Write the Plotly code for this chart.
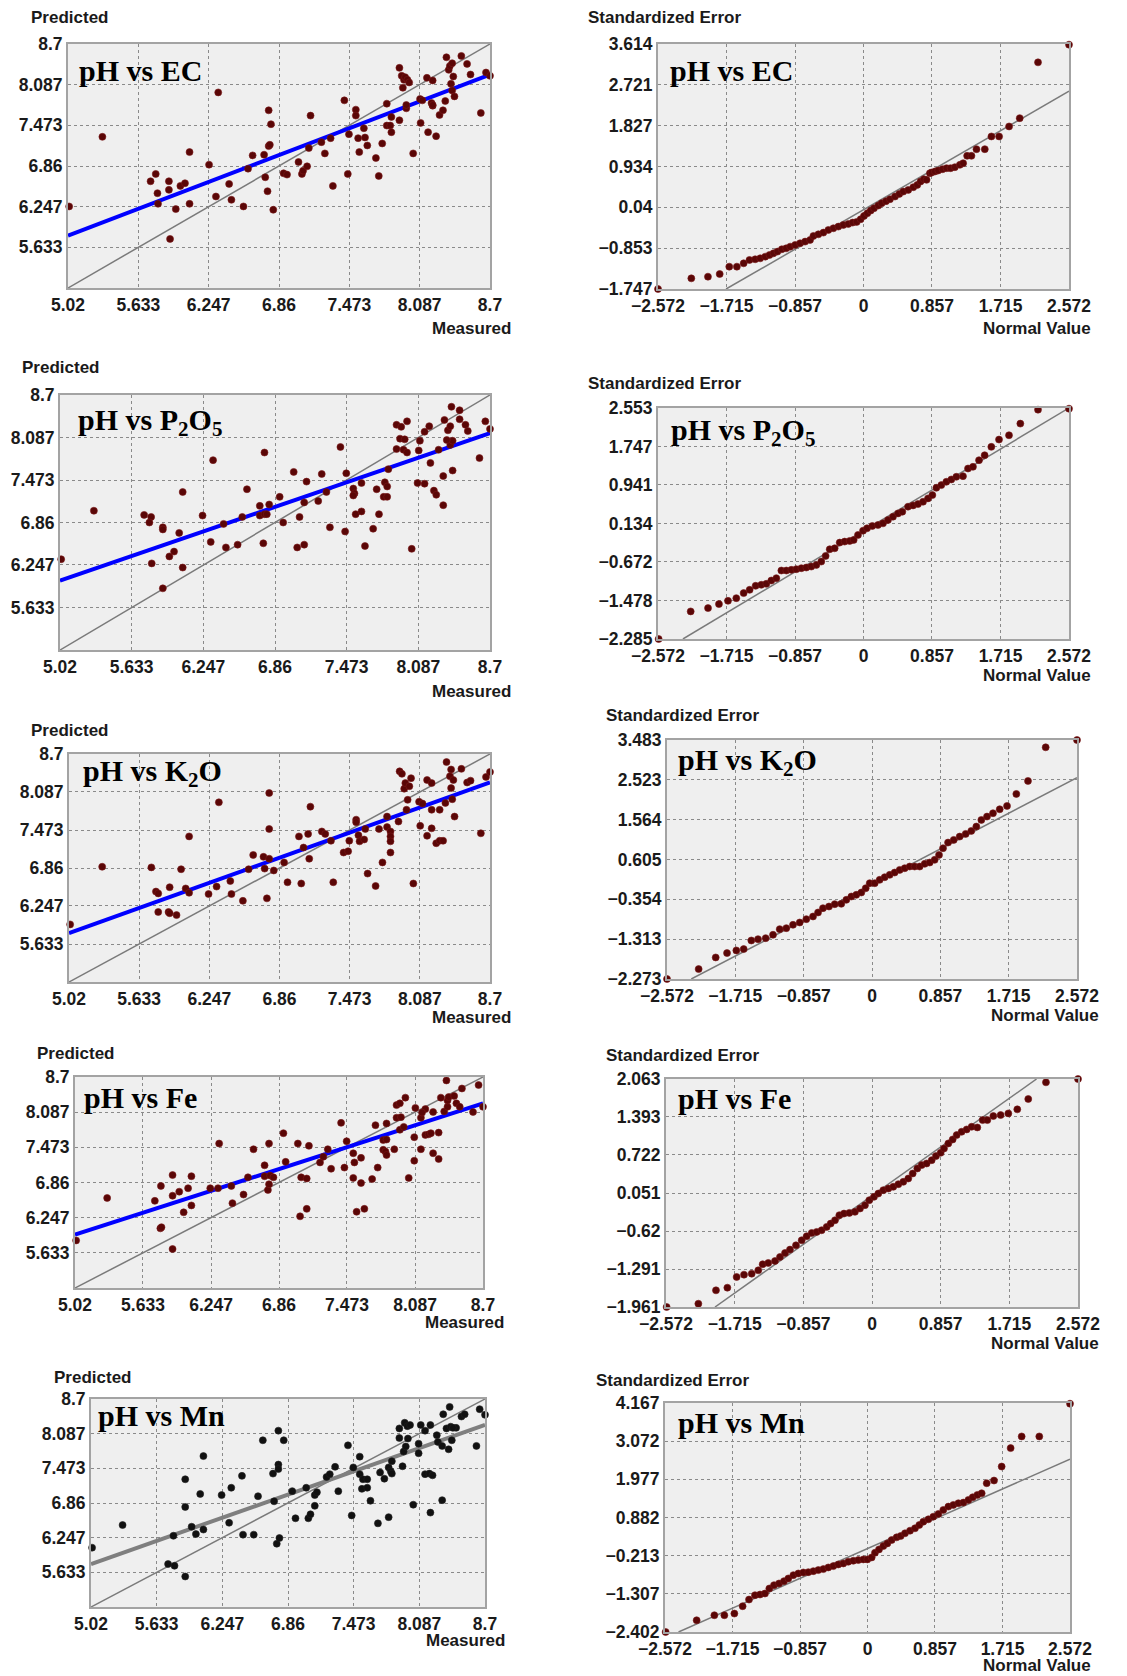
import plotly.graph_objects as go

W, H = 1127, 1676

# ---------------- DATA ----------------
meas_ticks = [5.02, 5.633, 6.247, 6.86, 7.473, 8.087, 8.7]
normal_ticks = [-2.572, -1.715, -0.857, 0, 0.857, 1.715, 2.572]

ec_y_ticks = [-1.747, -0.853, 0.04, 0.934, 1.827, 2.721, 3.614]
p2o5_y_ticks = [-2.285, -1.478, -0.672, 0.134, 0.941, 1.747, 2.553]
k2o_y_ticks = [-2.273, -1.313, -0.354, 0.605, 1.564, 2.523, 3.483]
fe_y_ticks = [-1.961, -1.291, -0.62, 0.051, 0.722, 1.393, 2.063]
mn_y_ticks = [-2.402, -1.307, -0.213, 0.882, 1.977, 3.072, 4.167]

titles = ["pH vs EC", "pH vs P<sub>2</sub>O<sub>5</sub>", "pH vs K<sub>2</sub>O", "pH vs Fe", "pH vs Mn"]

# regression lines (predicted at measured = 5.02 and 8.7)
reg_ec = [5.81, 8.24]
reg_p2o5 = [6.02, 8.15]
reg_k2o = [5.81, 8.24]
reg_fe = [5.95, 8.24]
reg_mn = [5.78, 8.24]

# QQ reference lines (start, end points)
qq_line_ec = [(-1.72, -1.747), (2.572, 2.58)]
qq_line_p2o5 = [(-2.26, -2.285), (2.572, 2.553)]
qq_line_k2o = [(-2.267, -2.273), (2.572, 2.577)]
qq_line_fe = [(-1.96, -1.961), (2.055, 2.063)]
qq_line_mn = [(-2.40, -2.402), (2.572, 2.556)]

# measured vs predicted
ec_points = [(5.03,6.25),(5.32,7.30),(5.74,6.63),(5.785,6.74),(5.80,6.45),(5.805,6.29),(5.90,6.63),(5.90,6.50),
 (5.91,5.76),(5.96,6.21),(6.00,6.56),(6.04,6.60),(6.08,6.29),(6.08,7.07),(6.25,6.88),(6.31,6.40),(6.33,7.97),
 (6.425,6.59),(6.445,6.35),(6.55,6.25),(6.59,6.82),(6.63,7.02),(6.73,7.03),(6.74,6.69),(6.76,6.48),(6.77,7.16),
 (6.77,7.70),(6.79,7.49),(6.78,7.18),(6.81,6.20),(6.90,6.75),(6.93,6.73),(7.03,6.92),(7.06,6.74),(7.07,6.79),
 (7.105,6.855),(7.12,7.13),(7.135,7.62),(7.23,7.22),(7.26,7.05),(7.31,7.28),(7.33,6.56),(7.43,7.85),(7.46,6.74),
 (7.47,7.34),(7.53,7.71),(7.53,7.62),(7.55,7.28),(7.56,7.07),(7.60,7.43),(7.61,7.29),(7.63,7.17),(7.705,6.98),
 (7.73,6.71),(7.76,7.20),(7.80,7.80),(7.80,7.47),(7.83,7.47),(7.84,7.60),(7.84,7.37),(7.91,7.55),(7.91,8.34),
 (7.93,8.22),(7.95,8.16),(7.96,8.20),(7.94,8.04),(7.98,8.16),(7.995,8.12),(7.97,7.73),(7.97,7.78),(8.03,7.05),
 (8.09,7.87),(8.095,7.51),(8.11,7.85),(8.15,8.19),(8.16,7.37),(8.20,8.15),(8.19,7.81),(8.20,7.77),(8.23,7.31),
 (8.26,7.63),(8.29,7.70),(8.32,8.50),(8.34,8.31),(8.35,8.37),(8.37,8.41),(8.36,8.10),(8.37,8.00),(8.38,8.21),
 (8.39,7.91),(8.31,7.84),(8.45,8.52),(8.50,8.40),(8.53,8.24),(8.62,7.66),(8.665,8.27),(8.70,8.22),(8.20,7.78)]

p2o5_points = [(5.03,6.33),(5.31,7.03),(5.74,6.97),(5.80,6.94),(5.785,6.86),(5.90,6.79),(5.90,6.76),(5.805,6.27),
 (5.90,5.91),(5.956,6.37),(5.996,6.44),(6.04,6.71),(6.07,6.21),(6.07,7.30),(6.24,6.96),(6.31,6.58),(6.33,7.76),
 (6.42,6.84),(6.44,6.50),(6.54,6.54),(6.58,6.94),(6.62,7.34),(6.73,7.10),(6.73,6.96),(6.76,6.56),(6.77,7.87),
 (6.77,6.98),(6.79,6.98),(6.81,7.12),(6.90,7.23),(6.93,6.86),(7.02,7.59),(7.05,6.50),(7.07,6.94),(7.11,6.54),
 (7.11,7.15),(7.13,7.45),(7.23,7.17),(7.26,7.56),(7.30,7.30),(7.33,6.79),(7.42,7.95),(7.46,6.73),(7.47,7.57),
 (7.53,7.35),(7.54,7.28),(7.53,7.25),(7.55,6.98),(7.60,7.02),(7.60,7.43),(7.63,6.52),(7.70,6.77),(7.73,7.34),
 (7.75,6.98),(7.79,7.23),(7.80,7.44),(7.82,7.38),(7.82,7.23),(7.83,7.63),(7.90,7.92),(7.90,8.27),(7.93,8.07),
 (7.94,8.24),(7.96,7.91),(7.97,8.06),(7.99,7.87),(7.99,8.32),(8.03,6.48),(8.08,7.43),(8.09,7.90),(8.10,8.04),
 (8.14,8.17),(8.14,7.42),(8.18,8.25),(8.19,7.72),(8.22,7.32),(8.24,7.26),(8.26,7.91),(8.30,7.11),(8.30,7.53),
 (8.31,8.34),(8.34,8.19),(8.36,8.25),(8.36,7.98),(8.38,8.04),(8.37,8.53),(8.38,7.61),(8.44,8.48),(8.44,8.35),
 (8.49,8.27),(8.51,8.18),(8.61,7.79),(8.66,8.32),(8.70,8.21),(8.33,8.05)]

k2o_points = [(5.03,5.95),(5.31,6.88),(5.74,6.87),(5.78,6.48),(5.80,6.45),(5.80,6.15),(5.90,6.55),(5.89,6.15),
 (5.90,6.13),(5.96,6.10),(6.00,6.84),(6.04,6.53),(6.07,6.46),(6.07,7.37),(6.24,6.44),(6.31,6.56),(6.33,7.92),
 (6.43,6.65),(6.44,6.44),(6.54,6.33),(6.59,6.84),(6.63,7.07),(6.72,7.04),(6.73,6.85),(6.75,6.37),(6.77,8.07),
 (6.77,7.49),(6.77,7.01),(6.81,6.82),(6.90,6.95),(6.93,6.63),(7.03,7.37),(7.05,6.61),(7.07,7.19),(7.11,7.41),
 (7.12,7.01),(7.13,7.85),(7.23,7.45),(7.26,7.41),(7.31,7.30),(7.33,6.63),(7.42,7.11),(7.46,7.13),(7.47,7.30),
 (7.53,7.64),(7.53,7.60),(7.55,7.39),(7.56,7.29),(7.60,7.32),(7.61,7.49),(7.63,6.77),(7.70,6.57),(7.73,7.49),
 (7.76,6.95),(7.80,7.69),(7.80,7.52),(7.83,7.45),(7.83,7.37),(7.83,7.29),(7.83,7.11),(7.90,7.61),(7.91,8.42),
 (7.93,8.38),(7.95,8.14),(7.96,8.23),(7.97,7.80),(7.98,7.96),(7.995,8.18),(8.01,8.31),(8.03,6.61),(8.08,7.93),
 (8.09,7.54),(8.11,7.90),(8.15,8.28),(8.15,7.38),(8.19,8.23),(8.19,7.80),(8.19,7.50),(8.23,7.26),(8.26,7.80),
 (8.26,7.30),(8.29,7.30),(8.32,8.57),(8.35,8.34),(8.36,8.45),(8.36,8.15),(8.37,7.97),(8.38,8.28),(8.39,7.69),
 (8.45,8.46),(8.50,8.24),(8.53,8.27),(8.62,7.42),(8.665,8.33),(8.70,8.41),(8.31,7.91)]

fe_points = [(5.03,5.85),(5.31,6.59),(5.74,6.54),(5.795,6.80),(5.79,6.06),(5.80,6.08),(5.90,6.99),(5.90,6.63),
 (5.90,5.70),(5.96,6.70),(6.00,6.34),(6.04,6.76),(6.07,6.97),(6.07,6.46),(6.24,6.76),(6.32,7.54),(6.31,6.76),
 (6.43,6.80),(6.44,6.50),(6.54,6.65),(6.58,6.95),(6.63,7.44),(6.73,7.16),(6.73,6.97),(6.76,6.73),(6.77,7.54),
 (6.77,6.83),(6.78,6.98),(6.81,6.95),(6.90,7.72),(6.92,7.22),(7.03,7.54),(7.05,6.27),(7.06,6.95),(7.11,6.93),
 (7.11,6.40),(7.13,7.50),(7.23,7.21),(7.26,7.31),(7.30,7.44),(7.33,7.10),(7.42,7.90),(7.45,7.12),(7.47,7.58),
 (7.53,7.37),(7.53,6.94),(7.54,7.21),(7.56,6.35),(7.60,7.29),(7.60,6.85),(7.63,6.40),(7.70,6.92),(7.73,7.86),
 (7.75,7.12),(7.80,7.60),(7.80,7.43),(7.82,7.40),(7.83,7.61),(7.83,7.34),(7.83,7.89),(7.90,7.44),(7.92,7.99),
 (7.92,8.21),(7.95,8.24),(7.95,7.78),(7.96,8.00),(7.985,7.83),(8.00,8.34),(8.03,6.94),(8.08,7.65),(8.08,7.24),
 (8.09,8.16),(8.14,7.44),(8.14,7.99),(8.18,8.14),(8.18,7.69),(8.21,7.70),(8.23,7.72),(8.25,7.37),(8.25,8.09),
 (8.30,7.73),(8.30,7.27),(8.32,8.34),(8.35,8.10),(8.37,8.64),(8.38,8.18),(8.38,8.29),(8.39,8.35),(8.44,8.37),
 (8.46,8.24),(8.49,8.18),(8.51,8.50),(8.61,8.09),(8.66,8.56),(8.70,8.18),(8.15,8.08)]

mn_points = [(5.03,6.07),(5.315,6.47),(5.74,5.78),(5.80,5.75),(5.79,6.28),(5.90,7.28),(5.90,6.79),(5.90,5.56),
 (5.96,6.44),(6.00,6.31),(6.04,7.02),(6.07,6.39),(6.07,7.69),(6.24,7.00),(6.31,6.51),(6.33,7.13),(6.43,7.34),
 (6.44,6.30),(6.54,6.30),(6.58,6.98),(6.625,7.97),(6.72,7.38),(6.73,6.89),(6.755,6.14),(6.77,8.14),(6.77,7.54),
 (6.77,7.46),(6.78,6.24),(6.82,7.97),(6.90,7.07),(6.93,6.59),(7.03,7.13),(7.05,6.59),(7.07,6.66),(7.11,6.81),
 (7.11,7.00),(7.13,7.05),(7.22,7.32),(7.25,7.37),(7.30,7.50),(7.33,7.07),(7.42,7.88),(7.455,6.64),(7.47,7.49),
 (7.53,7.68),(7.53,7.37),(7.55,7.11),(7.56,7.28),(7.60,7.28),(7.60,7.13),(7.63,6.90),(7.70,6.50),(7.72,7.40),
 (7.76,7.29),(7.80,6.61),(7.80,7.49),(7.82,7.42),(7.83,7.38),(7.83,7.60),(7.90,8.01),(7.90,8.18),(7.93,7.51),
 (7.94,7.77),(7.95,8.28),(7.96,7.86),(7.975,8.22),(7.98,8.00),(8.00,8.24),(8.03,6.83),(8.08,7.91),(8.08,7.74),
 (8.10,8.24),(8.14,7.37),(8.14,8.14),(8.18,7.38),(8.19,8.24),(8.19,6.69),(8.21,7.35),(8.25,8.06),(8.26,7.94),
 (8.30,7.87),(8.30,6.91),(8.31,8.43),(8.34,8.18),(8.36,7.81),(8.37,8.56),(8.38,8.21),(8.39,7.97),(8.43,8.19),
 (8.48,8.39),(8.51,8.43),(8.62,7.87),(8.65,8.52),(8.70,8.42),(8.40,8.19)]

# normal QQ (normal value, standardized error)
ec_qq = [(-2.572,-1.747),(-2.155,-1.514),(-1.947,-1.477),(-1.80,-1.419),(-1.68,-1.258),(-1.585,-1.258),
 (-1.50,-1.185),(-1.427,-1.112),(-1.356,-1.097),(-1.293,-1.076),(-1.23,-1.039),(-1.177,-1.003),(-1.127,-0.966),
 (-1.077,-0.929),(-1.022,-0.878),(-0.968,-0.857),(-0.918,-0.820),(-0.856,-0.783),(-0.794,-0.747),(-0.731,-0.710),
 (-0.669,-0.674),(-0.627,-0.586),(-0.565,-0.550),(-0.502,-0.513),(-0.44,-0.455),(-0.377,-0.418),(-0.315,-0.382),
 (-0.252,-0.345),(-0.19,-0.323),(-0.136,-0.294),(-0.086,-0.279),(-0.036,-0.221),(0.006,-0.148),(0.048,-0.089),
 (0.09,-0.031),(0.131,0.02),(0.185,0.079),(0.227,0.130),(0.281,0.174),(0.331,0.217),(0.394,0.276),(0.448,0.334),
 (0.498,0.385),(0.56,0.422),(0.623,0.480),(0.673,0.531),(0.714,0.605),(0.756,0.656),(0.789,0.641),(0.831,0.787),
 (0.852,0.802),(0.894,0.824),(0.935,0.846),(0.989,0.875),(1.039,0.897),(1.089,0.897),(1.143,0.919),(1.206,0.970),
 (1.247,1.006),(1.297,1.167),(1.351,1.167),(1.414,1.313),(1.518,1.313),(1.601,1.591),(1.697,1.591),(1.822,1.810),
 (1.955,1.992),(2.184,3.212),(2.572,3.60)]

p2o5_qq = [(-2.564,-2.285),(-2.163,-1.707),(-1.946,-1.638),(-1.809,-1.554),(-1.696,-1.485),(-1.592,-1.429),
 (-1.50,-1.324),(-1.425,-1.255),(-1.35,-1.171),(-1.279,-1.15),(-1.216,-1.13),(-1.154,-1.06),(-1.091,-1.011),
 (-1.028,-0.851),(-0.966,-0.851),(-0.903,-0.837),(-0.841,-0.823),(-0.778,-0.802),(-0.716,-0.788),(-0.653,-0.768),
 (-0.59,-0.733),(-0.528,-0.663),(-0.474,-0.545),(-0.423,-0.406),(-0.361,-0.385),(-0.298,-0.266),(-0.236,-0.245),
 (-0.173,-0.231),(-0.123,-0.21),(-0.069,-0.106),(-0.006,-0.016),(0.044,0.033),(0.11,0.082),(0.181,0.103),
 (0.244,0.137),(0.306,0.207),(0.369,0.277),(0.432,0.346),(0.486,0.381),(0.557,0.486),(0.62,0.513),(0.682,0.541),
 (0.745,0.590),(0.807,0.66),(0.862,0.729),(0.912,0.882),(0.974,0.938),(1.037,1.008),(1.099,1.056),(1.162,1.112),
 (1.245,1.126),(1.308,1.286),(1.37,1.321),(1.446,1.46),(1.516,1.564),(1.6,1.739),(1.696,1.892),(1.821,1.982),
 (1.963,2.226),(2.184,2.518),(2.572,2.539)]

k2o_qq = [(-2.572,-2.273),(-2.175,-2.034),(-1.961,-1.754),(-1.819,-1.649),(-1.702,-1.585),(-1.61,-1.553),
 (-1.514,-1.345),(-1.43,-1.313),(-1.334,-1.289),(-1.242,-1.208),(-1.158,-1.072),(-1.075,-1.048),(-0.991,-0.968),
 (-0.907,-0.912),(-0.824,-0.831),(-0.74,-0.767),(-0.677,-0.671),(-0.615,-0.567),(-0.54,-0.527),(-0.468,-0.470),
 (-0.385,-0.462),(-0.322,-0.366),(-0.259,-0.286),(-0.197,-0.246),(-0.134,-0.19),(-0.079,-0.086),(-0.029,0.035),
 (0.034,0.035),(0.096,0.115),(0.159,0.179),(0.222,0.235),(0.284,0.291),(0.347,0.355),(0.41,0.396),(0.473,0.436),
 (0.535,0.436),(0.598,0.436),(0.661,0.5),(0.724,0.532),(0.786,0.596),(0.841,0.716),(0.891,0.877),(0.954,1.013),
 (1.025,1.077),(1.1,1.157),(1.175,1.222),(1.246,1.294),(1.309,1.398),(1.372,1.558),(1.443,1.639),(1.518,1.719),
 (1.602,1.815),(1.694,1.895),(1.811,2.184),(1.957,2.497),(2.179,3.307),(2.572,3.483)]

fe_qq = [(-2.564,-1.961),(-2.168,-1.903),(-1.948,-1.667),(-1.806,-1.62),(-1.69,-1.431),(-1.598,-1.39),
 (-1.502,-1.373),(-1.42,-1.314),(-1.365,-1.207),(-1.295,-1.184),(-1.211,-1.149),(-1.149,-1.078),(-1.086,-1.007),
 (-1.024,-0.948),(-0.949,-0.872),(-0.878,-0.783),(-0.816,-0.712),(-0.753,-0.654),(-0.691,-0.636),(-0.629,-0.606),
 (-0.566,-0.547),(-0.516,-0.489),(-0.462,-0.43),(-0.408,-0.341),(-0.35,-0.312),(-0.283,-0.3),(-0.213,-0.282),
 (-0.15,-0.223),(-0.088,-0.164),(-0.034,-0.076),(0.025,-0.017),(0.079,0.042),(0.141,0.101),(0.204,0.13),
 (0.266,0.16),(0.329,0.207),(0.391,0.248),(0.453,0.307),(0.508,0.395),(0.566,0.484),(0.62,0.543),(0.682,0.572),
 (0.745,0.631),(0.799,0.702),(0.857,0.761),(0.899,0.837),(0.953,0.926),(1.007,0.996),(1.057,1.073),(1.119,1.132),
 (1.182,1.173),(1.244,1.22),(1.315,1.208),(1.381,1.338),(1.44,1.338),(1.515,1.409),(1.606,1.427),(1.702,1.456),
 (1.814,1.527),(1.951,1.71),(2.172,2.004),(2.572,2.063)]

mn_qq = [(-2.564,-2.402),(-2.17,-2.065),(-1.945,-1.921),(-1.818,-1.921),(-1.691,-1.873),(-1.586,-1.662),
 (-1.505,-1.471),(-1.429,-1.346),(-1.365,-1.327),(-1.302,-1.298),(-1.247,-1.154),(-1.188,-1.058),(-1.124,-1.01),
 (-1.061,-0.943),(-1.006,-0.866),(-0.942,-0.771),(-0.879,-0.723),(-0.815,-0.694),(-0.752,-0.685),(-0.688,-0.656),
 (-0.625,-0.627),(-0.561,-0.598),(-0.498,-0.55),(-0.434,-0.512),(-0.371,-0.464),(-0.307,-0.435),(-0.244,-0.387),
 (-0.18,-0.358),(-0.117,-0.339),(-0.053,-0.32),(-0.002,-0.32),(0.053,-0.263),(0.095,-0.128),(0.146,-0.032),
 (0.201,0.063),(0.252,0.14),(0.307,0.236),(0.37,0.313),(0.421,0.351),(0.476,0.428),(0.54,0.505),(0.603,0.572),
 (0.658,0.668),(0.709,0.763),(0.773,0.83),(0.836,0.907),(0.9,0.984),(0.963,1.099),(1.027,1.195),(1.09,1.243),
 (1.154,1.291),(1.217,1.31),(1.281,1.387),(1.336,1.463),(1.395,1.53),(1.45,1.578),(1.514,1.866),(1.607,1.943),
 (1.704,2.345),(1.818,2.873),(1.958,3.208),(2.182,3.208),(2.572,4.148)]

# ---------------- LAYOUT (pixel boxes of the plot areas) ----------------
left_boxes = [(68, 490, 44, 288), (60, 490, 395, 650), (69, 490, 754, 982), (75, 483, 1077, 1288), (91, 485, 1399, 1607)]
right_boxes = [(658, 1069, 44, 289), (658, 1069, 408, 639), (667, 1077, 740, 979), (666, 1078, 1079, 1307), (665, 1070, 1403, 1632)]
left_title_pos = [(77, 70), (76, 422), (81, 773), (82, 1097), (96, 1415)]
right_title_pos = [(668, 70), (669, 432), (676, 762), (676, 1098), (676, 1422)]
left_ylab = [(29, 18), (20, 367), (29, 730), (35, 1053), (52, 1377)]
left_xlab = [(513, 328), (513, 691), (513, 1017), (506, 1322), (507, 1640)]
right_ylab = [(586, 18), (586, 383), (604, 715), (604, 1055), (594, 1380)]
right_xlab = [(1093, 328), (1093, 675), (1101, 1015), (1101, 1343), (1093, 1665)]

scatter_sets = [ec_points, p2o5_points, k2o_points, fe_points, mn_points]
reg_sets = [reg_ec, reg_p2o5, reg_k2o, reg_fe, reg_mn]
qq_sets = [ec_qq, p2o5_qq, k2o_qq, fe_qq, mn_qq]
qq_lines = [qq_line_ec, qq_line_p2o5, qq_line_k2o, qq_line_fe, qq_line_mn]
qq_yticks = [ec_y_ticks, p2o5_y_ticks, k2o_y_ticks, fe_y_ticks, mn_y_ticks]

DARK = "#5a0606"
TICKFONT = dict(family="Liberation Sans", size=17.5, color="#1a1a1a", weight="bold")
LABFONT = dict(family="Liberation Sans", size=17, color="#1a1a1a", weight="bold")
TITLEFONT = dict(family="Liberation Serif", size=30, color="#000")


def fx(px):
    return px / W


def fy(py):
    return 1 - py / H


def fmt(v):
    return f"{v:g}".replace("-", "\u2212")


fig = go.Figure()
layout = {}
annotations = []
idx = 0


def add_axes(box, xt, yt, xr, yr, ytext):
    global idx
    idx += 1
    n = "" if idx == 1 else str(idx)
    x0, x1, y0, y1 = box
    common = dict(showgrid=True, gridcolor="#8a8a8a", griddash="dot", gridwidth=1,
                  showline=True, mirror=True, linecolor="#a3a3a3", linewidth=2,
                  zeroline=False, ticks="", tickfont=TICKFONT, fixedrange=True, automargin=False)
    layout["xaxis" + n] = dict(domain=[fx(x0), fx(x1)], range=xr, tickmode="array",
                               tickvals=xt, ticktext=[fmt(v) for v in xt],
                               anchor="y" + n, **common)
    layout["yaxis" + n] = dict(domain=[fy(y1), fy(y0)], range=yr, tickmode="array",
                               tickvals=yt, ticktext=ytext,
                               anchor="x" + n, **common)
    return "x" + n, "y" + n


for i in range(5):
    # ---- left panel: measured vs predicted
    xa, ya = add_axes(left_boxes[i], meas_ticks, meas_ticks, [5.02, 8.7], [5.02, 8.7],
                      [""] + [fmt(v) for v in meas_ticks[1:]])
    lo, hi = meas_ticks[0], meas_ticks[-1]
    fig.add_trace(go.Scatter(x=[lo, hi], y=[lo, hi], mode="lines", xaxis=xa, yaxis=ya,
                             line=dict(color="#7a7a7a", width=1.5), showlegend=False, hoverinfo="skip"))
    reg_color = "#7f7f7f" if i == 4 else "#0000ff"
    fig.add_trace(go.Scatter(x=[lo, hi], y=reg_sets[i], mode="lines", xaxis=xa, yaxis=ya,
                             line=dict(color=reg_color, width=4), showlegend=False, hoverinfo="skip"))
    px_, py_ = zip(*scatter_sets[i])
    mcol = "#111111" if i == 4 else DARK
    fig.add_trace(go.Scatter(x=list(px_), y=list(py_), mode="markers", xaxis=xa, yaxis=ya, cliponaxis=False,
                             marker=dict(color=mcol, size=7, line=dict(width=0.6, color="#7a1a1a" if i < 4 else "#222")),
                             showlegend=False))
    tx, ty = left_title_pos[i]
    annotations.append(dict(x=fx(tx), y=fy(ty), xref="paper", yref="paper", text="<b>" + titles[i] + "</b>",
                            showarrow=False, xanchor="left", yanchor="middle", font=TITLEFONT))
    lx, ly = left_ylab[i]
    annotations.append(dict(x=fx(lx), y=fy(ly), xref="paper", yref="paper", text="Predicted",
                            showarrow=False, xanchor="left", yanchor="middle", font=LABFONT))
    mx, my = left_xlab[i]
    annotations.append(dict(x=fx(mx), y=fy(my), xref="paper", yref="paper", text="Measured",
                            showarrow=False, xanchor="right", yanchor="middle", font=LABFONT))

    # ---- right panel: normal QQ plot
    yt = qq_yticks[i]
    xa, ya = add_axes(right_boxes[i], normal_ticks, yt, [normal_ticks[0], normal_ticks[-1]], [yt[0], yt[-1]],
                      [fmt(v) for v in yt])
    (a0, b0), (a1, b1) = qq_lines[i]
    fig.add_trace(go.Scatter(x=[a0, a1], y=[b0, b1], mode="lines", xaxis=xa, yaxis=ya, cliponaxis=True,
                             line=dict(color="#7a7a7a", width=1.5), showlegend=False, hoverinfo="skip"))
    qx, qy = zip(*qq_sets[i])
    fig.add_trace(go.Scatter(x=list(qx), y=list(qy), mode="markers", xaxis=xa, yaxis=ya, cliponaxis=False,
                             marker=dict(color=DARK, size=7, line=dict(width=0.6, color="#7a1a1a")),
                             showlegend=False))
    tx, ty = right_title_pos[i]
    annotations.append(dict(x=fx(tx), y=fy(ty), xref="paper", yref="paper", text="<b>" + titles[i] + "</b>",
                            showarrow=False, xanchor="left", yanchor="middle", font=TITLEFONT))
    lx, ly = right_ylab[i]
    annotations.append(dict(x=fx(lx), y=fy(ly), xref="paper", yref="paper", text="Standardized Error",
                            showarrow=False, xanchor="left", yanchor="middle", font=LABFONT))
    mx, my = right_xlab[i]
    annotations.append(dict(x=fx(mx), y=fy(my), xref="paper", yref="paper", text="Normal Value",
                            showarrow=False, xanchor="right", yanchor="middle", font=LABFONT))

fig.update_layout(**layout)
fig.update_layout(width=W, height=H, margin=dict(l=0, r=0, t=0, b=0, pad=0, autoexpand=False),
                  paper_bgcolor="white", plot_bgcolor="#efefef",
                  annotations=annotations, showlegend=False)

fig.write_html("out.html", config={"displayModeBar": False},
               post_script="document.body.style.margin='0px';document.body.style.overflow='hidden';")
